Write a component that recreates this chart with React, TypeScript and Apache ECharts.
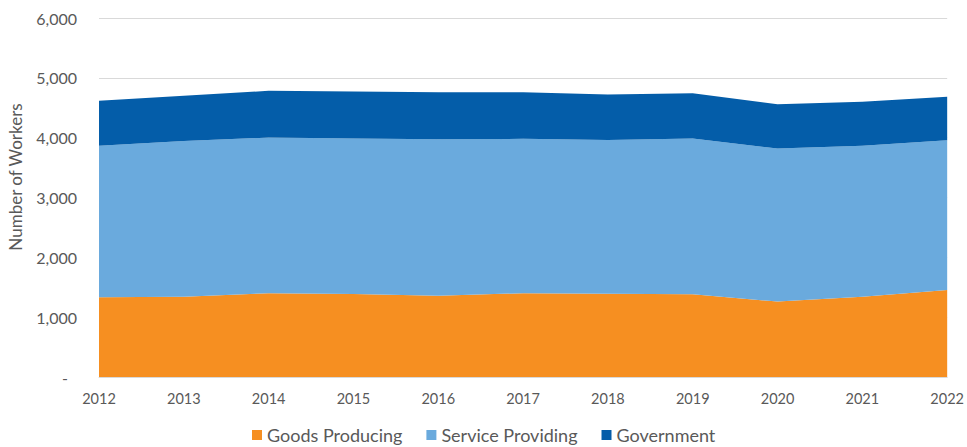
import React, { useEffect, useRef } from "react";
import * as echarts from "echarts";

const years = ["2012", "2013", "2014", "2015", "2016", "2017", "2018", "2019", "2020", "2021", "2022"];
const goodsProducing = [1333, 1343, 1400, 1388, 1360, 1400, 1393, 1383, 1260, 1343, 1455];
const serviceProviding = [2530, 2603, 2602, 2600, 2615, 2580, 2570, 2602, 2558, 2520, 2503];
const government = [752, 753, 781, 783, 785, 780, 758, 758, 742, 736, 724];
const yAxisTitle = "Number of Workers";

const FONT = "Lato, 'Open Sans', sans-serif";
const TXT = "#595959";

export default function App() {
  const ref = useRef<HTMLDivElement>(null);
  useEffect(() => {
    if (!ref.current) return;
    const chart = echarts.init(ref.current, undefined, { renderer: "svg" });
    const mk = (name: string, data: number[], color: string) => ({
      name,
      type: "line",
      stack: "total",
      data,
      symbol: "none",
      showSymbol: false,
      lineStyle: { width: 0 },
      areaStyle: { color, opacity: 1 },
      itemStyle: { color },
    });
    chart.setOption({
      animation: false,
      textStyle: { fontFamily: FONT },
      grid: { left: 99, right: 16, top: 18, bottom: 70, containLabel: false },
      graphic: [
        {
          type: "text",
          x: 15,
          y: 177,
          rotation: Math.PI / 2,
          style: {
            text: yAxisTitle,
            fill: TXT,
            fontSize: 17,
            fontFamily: FONT,
            align: "center",
            verticalAlign: "middle",
          },
        },
      ],
      legend: {
        top: 426,
        left: 252,
        padding: [0, 0, 0, 0],
        itemWidth: 10,
        itemHeight: 10,
        itemGap: 24,
        icon: "rect",
        textStyle: { color: TXT, fontSize: 18, fontFamily: FONT },
        data: ["Goods Producing", "Service Providing", "Government"],
      },
      xAxis: {
        type: "category",
        data: years,
        boundaryGap: false,
        axisLine: { show: true, lineStyle: { color: "#d9d9d9", width: 1 } },
        axisTick: { show: false },
        axisLabel: { color: TXT, fontSize: 14.5, margin: 14, fontFamily: FONT },
      },
      yAxis: {
        type: "value",
        min: 0,
        max: 6000,
        interval: 1000,
        axisLine: { show: false },
        axisTick: { show: false },
        splitLine: { lineStyle: { color: "#d9d9d9", width: 1 } },
        axisLabel: {
          color: TXT,
          fontSize: 16,
          margin: 22,
          fontFamily: FONT,
          formatter: (v: number) => (v === 0 ? "{d|-}" : v.toLocaleString("en-US")),
          rich: { d: { color: TXT, fontSize: 16, padding: [0, 9, 0, 0], fontFamily: FONT } },
        },
      },
      series: [
        mk("Goods Producing", goodsProducing, "#F68F21"),
        mk("Service Providing", serviceProviding, "#6AAADD"),
        mk("Government", government, "#045DA9"),
      ],
    });
    return () => chart.dispose();
  }, []);
  return <div ref={ref} style={{ width: 967, height: 447, position: "absolute", left: 0, top: 0 }} />;
}
